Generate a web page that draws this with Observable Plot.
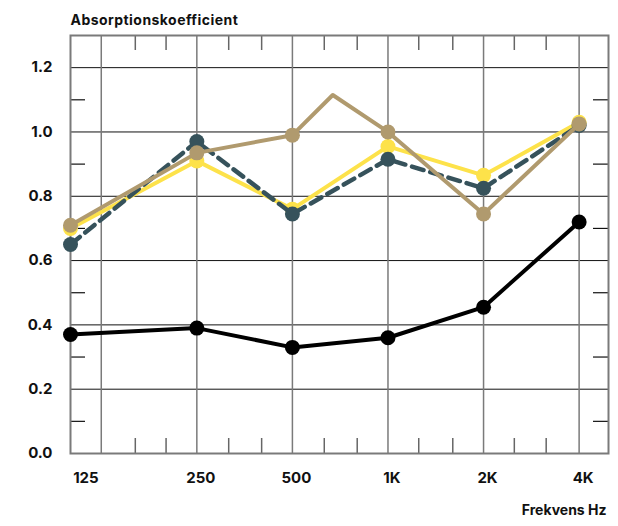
<!DOCTYPE html>
<html><head><meta charset="utf-8">
<script src="https://cdn.jsdelivr.net/npm/d3@7"></script>
<script src="https://cdn.jsdelivr.net/npm/@observablehq/plot@0.6"></script>
<style>body{margin:0;background:#fff;} .ttl{letter-spacing:0.45px;}</style>
</head><body><div id="chart"></div>
<script>
// ---- data ----
const categories = ["125", "250", "500", "1K", "2K", "4K"];
const freqs = [125, 250, 500, 1000, 2000, 4000];
const blackValues  = [0.37, 0.39, 0.33, 0.36, 0.455, 0.72];
const yellowValues = [0.70, 0.91, 0.76, 0.955, 0.865, 1.03];
const slateValues  = [0.65, 0.97, 0.745, 0.915, 0.825, 1.02];
const tanValues    = [0.71, 0.935, 0.99, 1.0, 0.745, 1.025];
// extra vertex on the tan line (no marker)
const tanPeakFreq = 670;
const tanPeakValue = 1.115;
const yTicks = [0, 0.2, 0.4, 0.6, 0.8, 1.0, 1.2];
const yMinor = [0.1, 0.3, 0.5, 0.7, 0.9, 1.1];
const xMinor = [160, 200, 315, 400, 630, 800, 1250, 1600, 2500, 3150];
const yTitle = "Absorptionskoefficient";
const xTitle = "Frekvens Hz";

// as in the original graphic, the 125 band is drawn on the left edge (100 Hz)
const plotFreq = freqs.map(f => f === 125 ? 100 : f);
const rows = (vals) => vals.map((v, i) => ({x: plotFreq[i], y: v}));
const black = rows(blackValues), yellow = rows(yellowValues), slate = rows(slateValues), tan = rows(tanValues);
const tanLine = [...tan.slice(0, 3), {x: tanPeakFreq, y: tanPeakValue}, ...tan.slice(3)];
const labels = categories.map((c, i) => ({c, f: freqs[i]}));

const ink = "#111";
const chart = Plot.plot({
  width: 618, height: 526,
  marginTop: 35, marginBottom: 73, marginLeft: 70, marginRight: 10,
  style: {fontFamily: "Inter, sans-serif", background: "#fff", color: ink},
  x: {type: "log", domain: [100, 4950], axis: null},
  y: {domain: [0, 1.3], axis: null},
  marks: [
    Plot.ruleY(yTicks.filter(d => d > 0), {stroke: "#111", strokeWidth: 1}),
    Plot.ruleX(freqs, {stroke: "#7a7a7a", strokeWidth: 1.5}),
    Plot.tickX(xMinor, {x: d => d, stroke: "#666", strokeWidth: 1.5, insetTop: 403}),
    Plot.tickX(xMinor, {x: d => d, stroke: "#666", strokeWidth: 1.5, insetBottom: 403}),
    Plot.tickY(yMinor, {y: d => d, stroke: "#111", strokeWidth: 1.2, insetRight: 523}),
    Plot.tickY(yMinor, {y: d => d, stroke: "#111", strokeWidth: 1.2, insetLeft: 523}),
    Plot.frame({stroke: "#7a7a7a", strokeWidth: 2}),
    // series
    Plot.line(black, {x: "x", y: "y", stroke: "#000", strokeWidth: 4}),
    Plot.dot(black, {x: "x", y: "y", r: 7.5, fill: "#000"}),
    Plot.line(yellow, {x: "x", y: "y", stroke: "#fde24a", strokeWidth: 4}),
    Plot.dot(yellow, {x: "x", y: "y", r: 7.5, fill: "#fde24a"}),
    Plot.line(slate, {x: "x", y: "y", stroke: "#36525b", strokeWidth: 4.5, strokeDasharray: "12,7"}),
    Plot.dot(slate, {x: "x", y: "y", r: 7.5, fill: "#36525b"}),
    Plot.line(tanLine, {x: "x", y: "y", stroke: "#b09a6e", strokeWidth: 4}),
    Plot.dot(tan, {x: "x", y: "y", r: 7.5, fill: "#b09a6e"}),
    // y tick labels
    Plot.text(yTicks, {y: d => d, text: d3.format(".1f"), frameAnchor: "left", textAnchor: "end", dx: -18, fontSize: 15, fontWeight: 700, fill: ink}),
    // x tick labels
    Plot.text(labels.slice(0, 1), {x: d => Math.sqrt(100 * d.f), text: "c", frameAnchor: "bottom", dy: 29.5, fontSize: 15, fontWeight: 700, fill: ink}),
    Plot.text(labels.slice(1), {x: "f", text: "c", frameAnchor: "bottom", dx: 4, dy: 29.5, fontSize: 15, fontWeight: 700, fill: ink}),
    // titles
    Plot.text([yTitle], {text: d => d, frameAnchor: "top-left", textAnchor: "start", dy: -20.5, fontSize: 14, fontWeight: 700, fill: ink, className: "ttl"}),
    Plot.text([xTitle], {text: d => d, frameAnchor: "bottom-right", textAnchor: "end", dx: -2, dy: 61.8, fontSize: 14, fontWeight: 700, fill: ink})
  ]
});
document.getElementById("chart").append(chart);
</script>
</body></html>
